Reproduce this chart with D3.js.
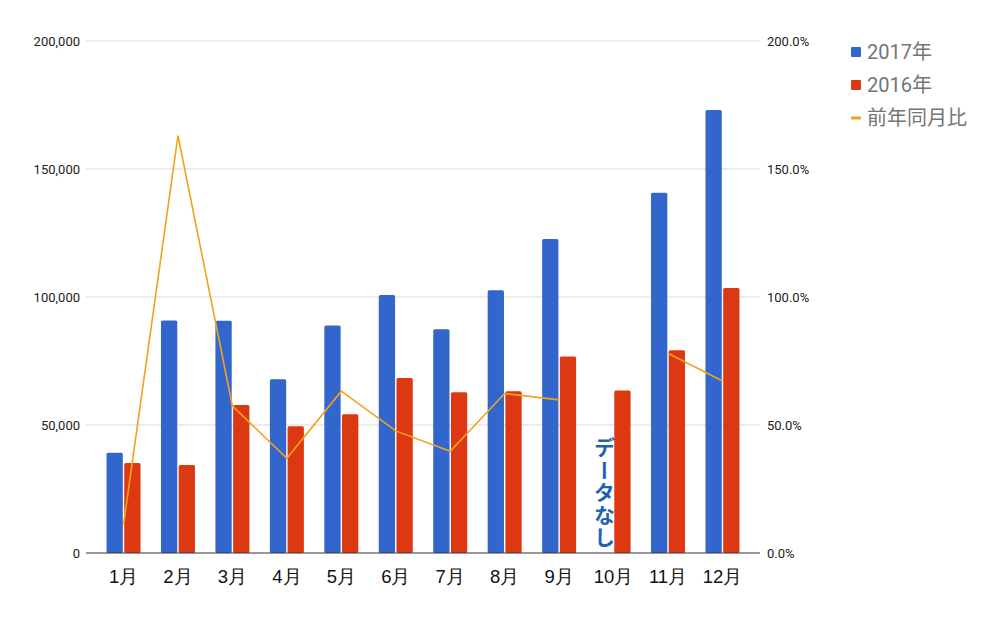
<!DOCTYPE html>
<html lang="ja">
<head>
<meta charset="UTF-8">
<script src="https://cdn.jsdelivr.net/npm/d3@7"></script>
<style>
  body { margin: 0; background: #fff; }
  svg { font-family: Roboto, "Noto Sans CJK JP", sans-serif; }
</style>
</head>
<body>
<svg></svg>
<script>
// data
var months = ["1月","2月","3月","4月","5月","6月","7月","8月","9月","10月","11月","12月"];
var sales2017 = [39200, 90800, 90700, 67900, 88900, 100800, 87400, 102600, 122700, null, 140700, 173000];
var sales2016 = [35200, 34400, 57800, 49500, 54200, 68400, 62800, 63200, 76800, 63500, 79200, 103500];
var yoyRatio = [0.11, 1.63, 0.574, 0.37, 0.632, 0.477, 0.397, 0.623, 0.598, null, 0.78, 0.672];
var leftTicks = [0, 50000, 100000, 150000, 200000];
var rightTicks = [0, 0.5, 1, 1.5, 2];
var seriesNames = ["2017年", "2016年", "前年同月比"];
var colors = ["#3366cc", "#dc3912", "#f3a21d"];

var W = 1000, H = 619;
var plot = {left: 86, right: 760, top: 41, bottom: 553};

var svg = d3.select("svg").attr("width", W).attr("height", H);

var x = d3.scaleBand().domain(months).range([96.3, 749.7]).padding(0);
var groupW = 34;
var x1 = d3.scaleBand().domain([0, 1]).range([0, groupW]);
var yL = d3.scaleLinear().domain([0, 200000]).range([plot.bottom, plot.top]);
var yR = d3.scaleLinear().domain([0, 2]).range([plot.bottom, plot.top]);

function cx(m) { return x(m) + x.bandwidth() / 2; }

// gridlines
svg.append("g").selectAll("line").data(leftTicks.slice(1)).enter().append("line")
  .attr("x1", plot.left).attr("x2", plot.right)
  .attr("y1", function(d){ return yL(d); }).attr("y2", function(d){ return yL(d); })
  .attr("stroke", "#d9d9d9").attr("stroke-width", 1);

// left axis
var axL = d3.axisLeft(yL).tickValues(leftTicks).tickSize(0).tickPadding(6)
  .tickFormat(d3.format(","));
svg.append("g").attr("transform", "translate(" + plot.left + ",0)").call(axL)
  .call(function(g){ g.select(".domain").remove(); })
  .selectAll("text").attr("font-size", 13).attr("fill", "#222")
  .attr("font-family", "Roboto, sans-serif");

// right axis
var axR = d3.axisRight(yR).tickValues(rightTicks).tickSize(0).tickPadding(7)
  .tickFormat(d3.format(".1%"));
svg.append("g").attr("transform", "translate(" + plot.right + ",0)").call(axR)
  .call(function(g){ g.select(".domain").remove(); })
  .selectAll("text").attr("font-size", 13).attr("fill", "#222")
  .attr("font-family", "Roboto, sans-serif");

// bars
var rows = months.map(function(m, i){ return {m: m, vals: [sales2017[i], sales2016[i]]}; });
var grp = svg.append("g").selectAll("g").data(rows).enter().append("g")
  .attr("transform", function(d){ return "translate(" + (cx(d.m) - groupW / 2) + ",0)"; });
grp.selectAll("rect")
  .data(function(d){ return d.vals.map(function(v, k){ return {k: k, v: v}; }).filter(function(e){ return e.v != null; }); })
  .enter().append("rect")
  .attr("x", function(d){ return x1(d.k) + (d.k === 1 ? 0.7 : 0); })
  .attr("width", x1.bandwidth() - 0.7)
  .attr("y", function(d){ return yL(d.v); })
  .attr("height", function(d){ return plot.bottom - yL(d.v); })
  .attr("rx", 1.5)
  .attr("fill", function(d){ return colors[d.k]; });

// baseline
svg.append("line").attr("x1", plot.left).attr("x2", plot.right)
  .attr("y1", plot.bottom).attr("y2", plot.bottom)
  .attr("stroke", "#333").attr("stroke-width", 1);

// ratio line
var line = d3.line()
  .defined(function(d){ return d != null; })
  .x(function(d, i){ return cx(months[i]); })
  .y(function(d){ return yR(d); });
svg.append("path").datum(yoyRatio)
  .attr("d", line).attr("fill", "none")
  .attr("stroke", colors[2]).attr("stroke-width", 1.6);

// x labels
var axX = d3.axisBottom(x).tickSize(0).tickPadding(17);
svg.append("g").attr("transform", "translate(0," + plot.bottom + ")").call(axX)
  .call(function(g){ g.select(".domain").remove(); })
  .selectAll("text").attr("font-size", 18.5).attr("fill", "#111");

// no-data note for October
svg.append("text")
  .attr("x", cx("10月") - 9).attr("y", 437)
  .attr("writing-mode", "vertical-rl")
  .attr("font-family", "'Noto Sans CJK JP', sans-serif")
  .attr("font-size", 21).attr("font-weight", 600)
  .attr("letter-spacing", 1.5)
  .attr("fill", "#1c62b0")
  .text("データなし");

// legend
var lg = svg.append("g").attr("transform", "translate(851,52)");
seriesNames.forEach(function(name, i){
  var row = lg.append("g").attr("transform", "translate(0," + (i * 33) + ")");
  if (i < 2) {
    row.append("rect").attr("x", 0).attr("y", -5).attr("width", 10).attr("height", 10)
      .attr("rx", 1).attr("fill", colors[i]);
  } else {
    row.append("rect").attr("x", 0).attr("y", -1.5).attr("width", 10).attr("height", 3)
      .attr("fill", colors[i]);
  }
  row.append("text").attr("x", 16).attr("y", 0).attr("dy", "0.35em")
    .attr("font-size", 20).attr("fill", "#757575").text(name);
});
</script>
</body>
</html>
